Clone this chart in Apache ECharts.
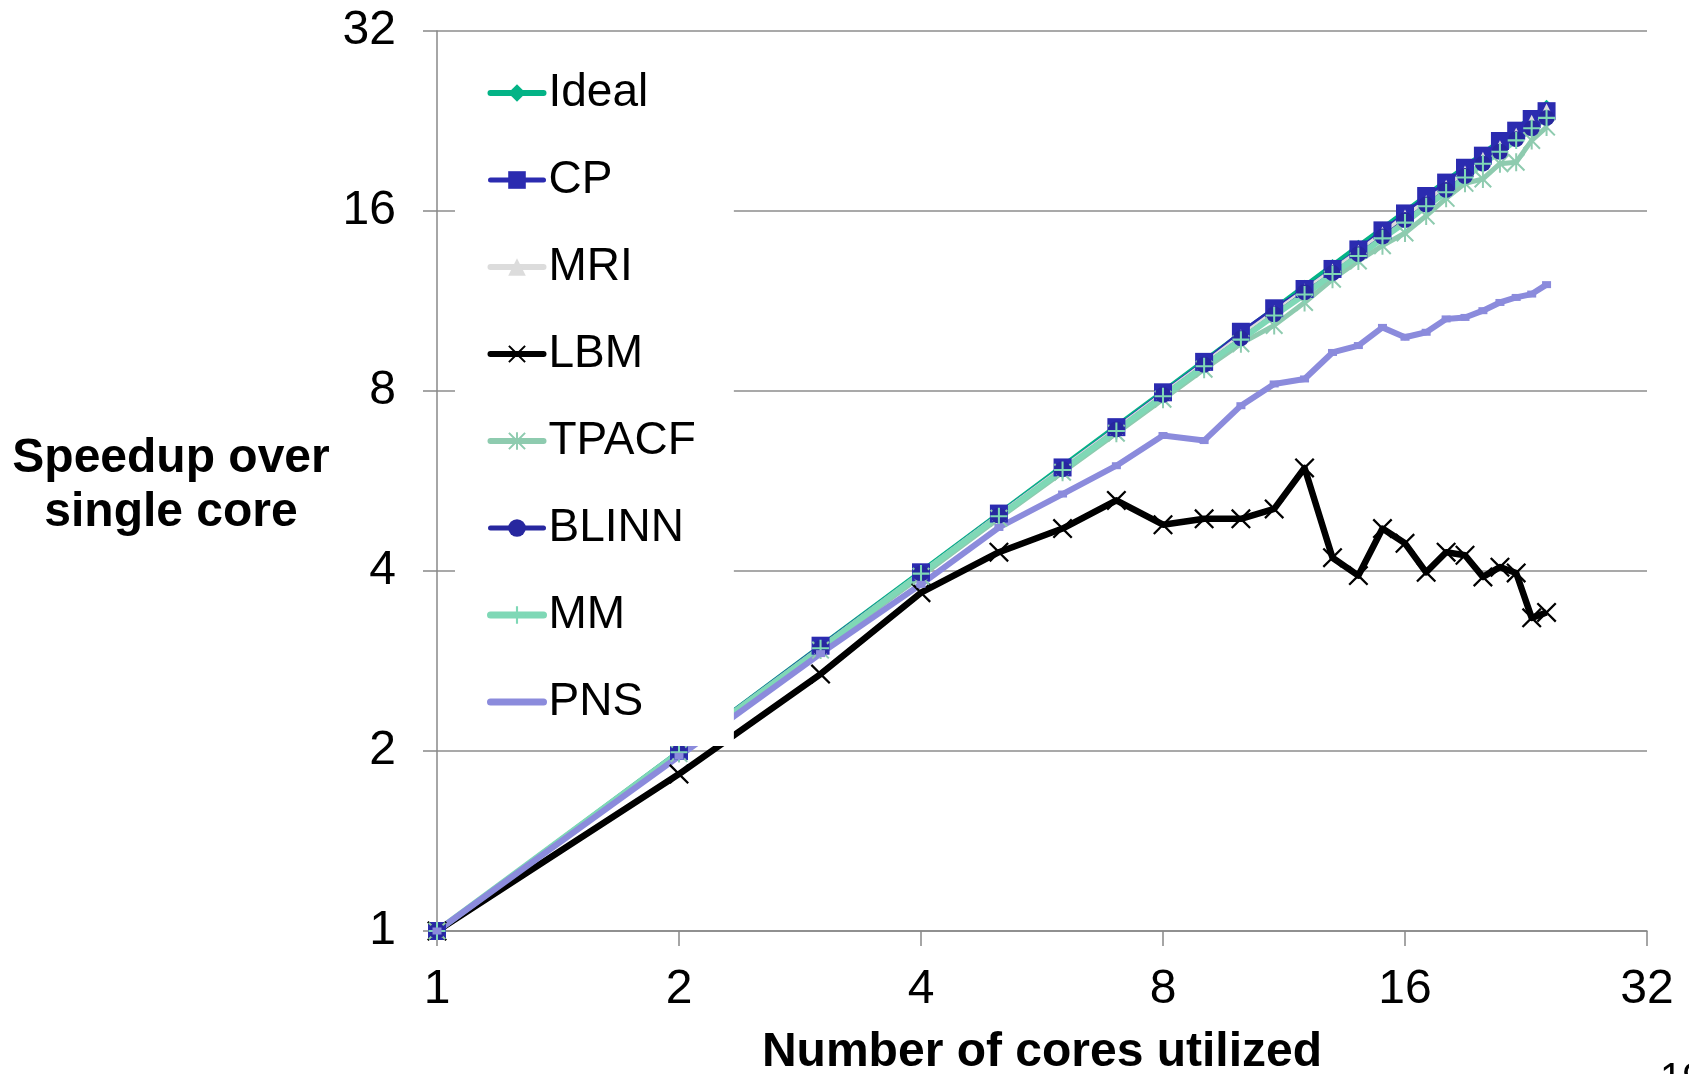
<!DOCTYPE html>
<html>
<head>
<meta charset="utf-8">
<title>Speedup over single core</title>
<script src="https://cdn.jsdelivr.net/npm/echarts@6/dist/echarts.min.js"></script>
<style>
  html, body { margin: 0; padding: 0; background: #ffffff; }
  #chart { width: 1689px; height: 1074px; }
</style>
</head>
<body>
<div id="chart"></div>
<script>
// Cores used for each measurement
const cores = [1, 2, 3, 4, 5, 6, 7, 8, 9, 10, 11, 12, 13, 14, 15, 16, 17, 18, 19, 20, 21, 22, 23, 24];

// Speedup over a single core, per benchmark
const ideal = [1, 2, 3, 4, 5, 6, 7, 8, 9, 10, 11, 12, 13, 14, 15, 16, 17, 18, 19, 20, 21, 22, 23, 24];
const cp    = [1, 2.0, 3.0, 3.98, 4.99, 5.96, 6.96, 7.96, 8.95, 10.05, 11.0, 11.85, 12.8, 13.8, 14.85, 15.85, 16.95, 17.85, 18.9, 19.8, 20.95, 21.8, 22.8, 23.5];
const mri   = [1, 1.99, 2.98, 3.97, 4.97, 5.95, 6.93, 7.92, 8.9, 9.9, 10.85, 11.8, 12.75, 13.7, 14.7, 15.7, 16.6, 17.6, 18.6, 19.6, 20.5, 21.5, 22.6, 23.6];
const lbm   = [1, 1.83, 2.69, 3.68, 4.30, 4.71, 5.25, 4.78, 4.89, 4.89, 5.08, 5.95, 4.21, 3.93, 4.71, 4.45, 3.98, 4.30, 4.25, 3.91, 4.06, 3.97, 3.34, 3.41];
const tpacf = [1, 1.98, 2.95, 3.92, 4.9, 5.85, 6.8, 7.75, 8.7, 9.6, 10.3, 11.25, 12.3, 13.2, 14.0, 14.7, 15.7, 16.8, 17.8, 18.1, 19.2, 19.3, 21.0, 22.1];
const blinn = [1, 1.99, 2.97, 3.96, 4.95, 5.92, 6.9, 7.88, 8.85, 9.8, 10.75, 11.7, 12.6, 13.55, 14.5, 15.45, 16.4, 17.35, 18.3, 19.2, 20.1, 21.1, 22.0, 22.9];
const mm    = [1, 1.99, 2.97, 3.96, 4.94, 5.9, 6.86, 7.84, 8.8, 9.75, 10.7, 11.6, 12.55, 13.45, 14.4, 15.3, 16.3, 17.2, 18.2, 19.2, 20.1, 21.0, 22.0, 22.9];
const pns   = [1, 1.96, 2.91, 3.80, 4.73, 5.38, 6.0, 6.74, 6.61, 7.56, 8.22, 8.38, 9.28, 9.53, 10.22, 9.84, 10.03, 10.56, 10.62, 10.9, 11.25, 11.47, 11.62, 12.05];

// Axis ticks (powers of two)
const tickValues = [1, 2, 4, 8, 16, 32];

// Marker shapes drawn as filled outlines
const SYM_X = 'path://M0.8,0L5,4.2L9.2,0L10,0.8L5.8,5L10,9.2L9.2,10L5,5.8L0.8,10L0,9.2L4.2,5L0,0.8Z';
const SYM_STAR = 'path://M0.8,0L5,4.2L9.2,0L10,0.8L5.8,5L10,9.2L9.2,10L5,5.8L0.8,10L0,9.2L4.2,5L0,0.8Z M4.45,0L5.55,0L5.55,10L4.45,10Z';
const SYM_PLUS = 'path://M4.4,0L5.6,0L5.6,4.4L10,4.4L10,5.6L5.6,5.6L5.6,10L4.4,10L4.4,5.6L0,5.6L0,4.4L4.4,4.4Z';

const FONT = '"Liberation Sans", Arial, Helvetica, sans-serif';

function pairs(values) {
  return cores.map((c, i) => [c, values[i]]);
}

function lineSeries(name, values, color, width, symbol, size) {
  return {
    name: name,
    type: 'line',
    data: pairs(values),
    symbol: symbol,
    symbolSize: size,
    symbolKeepAspect: true,
    showAllSymbol: true,
    lineStyle: { color: color, width: width, join: 'round' },
    itemStyle: { color: color, borderWidth: 0 },
    emphasis: { disabled: true }
  };
}

function legendItem(name, color, width, extra) {
  return Object.assign({ name: name, lineStyle: { color: color, width: width, cap: 'round' } }, extra || {});
}

const chart = echarts.init(document.getElementById('chart'), null, { renderer: 'canvas' });

chart.setOption({
  animation: false,
  backgroundColor: '#ffffff',
  grid: { left: 437, right: 42, top: 31, bottom: 143, containLabel: false, outerBoundsMode: 'none' },
  xAxis: {
    type: 'log',
    logBase: 2,
    min: 1,
    max: 32,
    name: 'Number of cores utilized',
    nameLocation: 'middle',
    nameGap: 98,
    nameTextStyle: { fontFamily: FONT, fontSize: 48, fontWeight: 'bold', color: '#000', lineHeight: 48 },
    axisLine: { show: true, lineStyle: { color: '#888888', width: 1.5 } },
    axisTick: { show: true, length: 15, inside: false, lineStyle: { color: '#888888', width: 1.5 } },
    axisLabel: {
      margin: 35,
      fontFamily: FONT, fontSize: 48, color: '#000', lineHeight: 48,
      formatter: v => (tickValues.includes(Math.round(v)) ? String(Math.round(v)) : '')
    },
    splitLine: { show: false }
  },
  yAxis: {
    type: 'log',
    logBase: 2,
    min: 1,
    max: 32,
    axisLine: { show: true, lineStyle: { color: '#888888', width: 1.5 } },
    axisTick: { show: true, length: 14, inside: false, lineStyle: { color: '#888888', width: 1.5 } },
    axisLabel: {
      margin: 41,
      fontFamily: FONT, fontSize: 48, color: '#000',
      formatter: v => (tickValues.includes(Math.round(v)) ? String(Math.round(v)) : '')
    },
    splitLine: { show: true, lineStyle: { color: '#8c8c8c', width: 1.5 } }
  },
  legend: {
    orient: 'vertical',
    left: 455,
    top: 35,
    padding: [35, 38, 21, 32],
    backgroundColor: '#ffffff',
    itemWidth: 53,
    itemHeight: 22,
    itemGap: 41,
    selectedMode: false,
    textStyle: { fontFamily: FONT, fontSize: 46, color: '#000', lineHeight: 46 },
    data: [
      legendItem('Ideal', '#03b386', 6),
      legendItem('CP', '#2b2bb0', 5),
      legendItem('MRI', '#dcdcdc', 6),
      legendItem('LBM', '#000000', 6),
      legendItem('TPACF', '#8ecbaf', 6),
      legendItem('BLINN', '#27279f', 5),
      legendItem('MM', '#7fd8b6', 7),
      legendItem('PNS', '#8b8bdc', 7, { itemStyle: { opacity: 0 } })
    ]
  },
  series: [
    lineSeries('Ideal', ideal, '#03b386', 4, 'diamond', 12),
    lineSeries('CP', cp, '#2b2bb0', 3, 'rect', 18),
    lineSeries('MRI', mri, '#dcdcdc', 4, 'triangle', 13),
    lineSeries('LBM', lbm, '#000000', 6.5, SYM_X, 20),
    lineSeries('TPACF', tpacf, '#8ecbaf', 5, SYM_STAR, 18),
    lineSeries('BLINN', blinn, '#27279f', 3, 'circle', 16),
    lineSeries('MM', mm, '#7fd8b6', 6, SYM_PLUS, 17),
    lineSeries('PNS', pns, '#8b8bdc', 6, 'rect', [9, 7])
  ],
  graphic: [
    {
      type: 'text',
      x: 171,
      y: 432,
      style: {
        text: 'Speedup over\nsingle core',
        font: 'bold 48px ' + FONT,
        fill: '#000',
        align: 'center',
        verticalAlign: 'top',
        lineHeight: 54
      }
    },
    {
      type: 'text',
      x: 1660,
      y: 1060,
      style: { text: '19', font: '40px ' + FONT, fill: '#000' }
    }
  ]
});
</script>
</body>
</html>
